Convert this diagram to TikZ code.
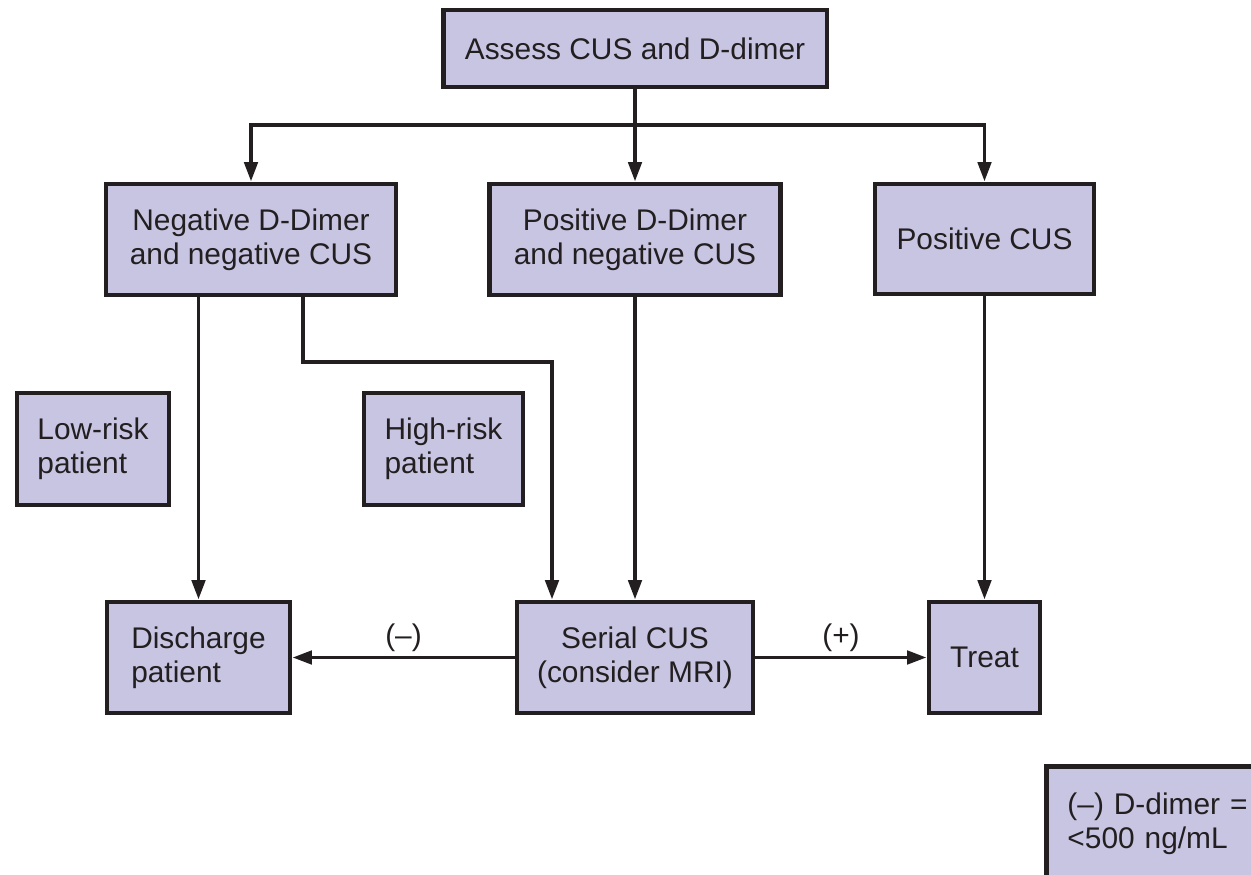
\documentclass[tikz,border=0pt]{standalone}
\usepackage{fontspec}
\setmainfont{Liberation Sans}
\usetikzlibrary{arrows.meta}
\definecolor{boxfill}{HTML}{C8C5E3}
\definecolor{ink}{HTML}{231F20}
\tikzset{
  box/.style={draw=ink, fill=boxfill, line width=2.8pt, text=ink, inner sep=0pt, align=center},
  lbox/.style={box, align=left},
  arr/.style={draw=ink, line width=2.2pt, -{Triangle[length=11pt,width=7.5pt]}},
  lbl/.style={midway, above=-1pt, text=ink}
}
\begin{document}
\begin{tikzpicture}[x=0.02cm, y=-0.02cm, font=\fontsize{17}{19.5}\selectfont]
\useasboundingbox[fill=white] (0,0) rectangle (1251,875);
\node[box, minimum width=7.68cm, minimum height=1.54cm] (assess) at (635,48.5) {Assess CUS and D-dimer};
\node[box, minimum width=5.8cm, minimum height=2.22cm] (negboth) at (251,239.5) {Negative D-Dimer\\and negative CUS};
\node[box, minimum width=5.82cm, minimum height=2.22cm] (posdd) at (635,239.5) {Positive D-Dimer\\and negative CUS};
\node[box, minimum width=4.38cm, minimum height=2.2cm] (poscus) at (984.5,239) {Positive CUS};
\node[lbox, minimum width=3.04cm, minimum height=2.24cm] (lowrisk) at (93,449) {Low-risk\\patient};
\node[lbox, minimum width=3.18cm, minimum height=2.24cm] (highrisk) at (443.5,449) {High-risk\\patient};
\node[lbox, minimum width=3.66cm, minimum height=2.22cm] (discharge) at (198.5,657.5) {Discharge\\patient};
\node[box, minimum width=4.72cm, minimum height=2.22cm] (serial) at (635,657.5) {Serial CUS\\(consider MRI)};
\node[box, minimum width=2.22cm, minimum height=2.22cm] (treat) at (984.5,657.5) {Treat};
\node[lbox, anchor=north west, text width=4.2cm, inner xsep=0.42cm, minimum height=2.3cm] (legend) at (1044,764) {(–) D-dimer =\\<500 ng/mL};
% connectors
\coordinate (split) at (635,125);
\coordinate (bendA) at (303,362);
\coordinate (bendB) at (552,362);
\draw[arr] (assess) -- (posdd);
\draw[arr] (split) -| (negboth);
\draw[arr] (split) -| (poscus);
\draw[arr] (negboth.south -| discharge.north) -- (discharge.north);
\draw[arr] (negboth.south -| bendA) -- (bendA) -- (bendB) -- (bendB |- serial.north);
\draw[arr] (posdd) -- (serial);
\draw[arr] (poscus) -- (treat);
\draw[arr] (serial) -- node[lbl]{(–)} (discharge);
\draw[arr] (serial) -- node[lbl]{(+)} (treat);
\end{tikzpicture}
\end{document}
